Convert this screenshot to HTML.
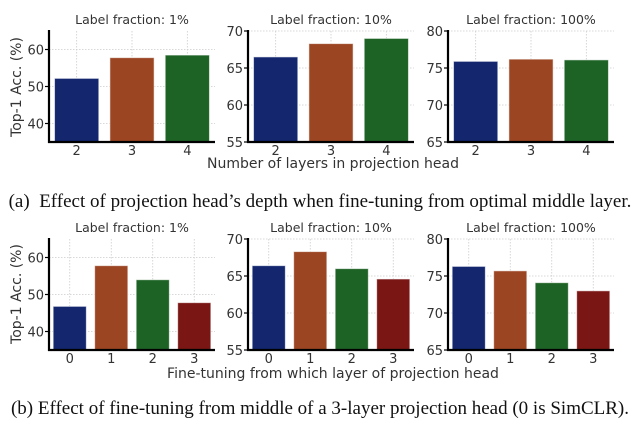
<!DOCTYPE html>
<html><head><meta charset="utf-8"><style>
body{margin:0;background:#fff;width:640px;height:431px;overflow:hidden}
svg{display:block}
.cap{position:absolute;left:0;width:640px;text-align:center;font-family:"Liberation Serif",serif;font-size:19px;color:#111;white-space:nowrap}
</style></head><body>
<svg id="chart" width="640" height="431" style="position:absolute;left:0;top:0" font-family="DejaVu Sans, Liberation Sans, sans-serif"></svg>
<div class="cap" style="top:191px">(a)&nbsp; Effect of projection head’s depth when fine-tuning from optimal middle layer.</div>
<div class="cap" style="top:398px">(b) Effect of fine-tuning from middle of a 3-layer projection head (0 is SimCLR).</div>
<script>
const titles = ["Label fraction: 1%","Label fraction: 10%","Label fraction: 100%"];
const catsA = ["2","3","4"];
const catsB = ["0","1","2","3"];
const valsA1 = [52.2,57.8,58.5];
const valsA2 = [66.5,68.3,69.0];
const valsA3 = [75.9,76.2,76.1];
const valsB1 = [46.8,57.8,54.0,47.8];
const valsB2 = [66.4,68.3,66.0,64.6];
const valsB3 = [76.3,75.7,74.1,73.0];
const ranges = [[35,65],[55,70],[65,80]];
const ticks1 = [40,50,60];
const ticks2 = [55,60,65,70];
const ticks3 = [65,70,75,80];
const colors = ["#13266e","#9b4523","#1e6326","#7a1715"];

const svg = document.getElementById('chart');
const NS = "http://www.w3.org/2000/svg";
function mk(tag, attrs, parent){const e=document.createElementNS(NS,tag);for(const k in attrs)e.setAttribute(k,attrs[k]);(parent||svg).appendChild(e);return e;}

const lefts=[49,248,448], W=166;
function panel(row, p, cats, vals, ticks){
  const top = row===0?31:239, bot = row===0?142:350;
  const L = lefts[p], R = L+W;
  const [lo,hi] = ranges[p];
  const y = v => bot - (v-lo)/(hi-lo)*(bot-top);
  const step = W/cats.length;
  const xc = i => L + step*(i+0.5);
  const g = mk('g',{});
  
  
  ticks.forEach(t=>{
    const gl = mk('line',{x1:L,x2:R,y1:y(t),y2:y(t),stroke:'#ccc','stroke-width':0.8,'stroke-dasharray':'1.5,1.5'},g);
    
    
    mk('line',{x1:L-4,x2:L,y1:y(t),y2:y(t),stroke:'#000','stroke-width':1.2},g);
    const tl = mk('text',{x:L-5,y:y(t)+5,'text-anchor':'end','font-size':13,fill:'#333'},g);
    tl.textContent=t;
    
    
  });
  cats.forEach((c,i)=>{
    const gx = mk('line',{x1:xc(i),x2:xc(i),y1:top,y2:bot,stroke:'#ccc','stroke-width':0.8,'stroke-dasharray':'1.5,1.5'},g);
    
    
  });
  cats.forEach((c,i)=>{
    const bw = step*0.8;
    const b = mk('rect',{x:xc(i)-bw/2,y:y(vals[i]),width:bw,height:bot-y(vals[i]),fill:colors[i],stroke:'rgba(255,255,255,0.6)','stroke-width':1},g);
    
    
    const tl = mk('text',{x:xc(i),y:bot+13,'text-anchor':'middle','font-size':13,fill:'#333'},g);
    tl.textContent=c;
    
    
  });
  mk('line',{x1:L,x2:L,y1:top-1,y2:bot+1,stroke:'#000','stroke-width':2.2},g);
  mk('line',{x1:L-1,x2:R,y1:bot,y2:bot,stroke:'#000','stroke-width':2.2},g);
  const tt = mk('text',{x:(L+R)/2,y:top-7,'text-anchor':'middle','font-size':12.5,fill:'#333'},g);
  tt.textContent=titles[p];
  
  
}
const tk=[ticks1,ticks2,ticks3];
[valsA1,valsA2,valsA3].forEach((v,p)=>panel(0,p,catsA,v,tk[p]));
[valsB1,valsB2,valsB3].forEach((v,p)=>panel(1,p,catsB,v,tk[p]));

function label(txt,x,yy,rot,name){
  const t = mk('text',{x:x,y:yy,'text-anchor':'middle','font-size':14,fill:'#333'});
  if(rot) t.setAttribute('transform','rotate(-90 '+x+' '+yy+')');
  t.textContent=txt;
  
  
}
label("Number of layers in projection head",333,168,false,'x-axis-title-a');
label("Fine-tuning from which layer of projection head",333,378,false,'x-axis-title-b');
label("Top-1 Acc. (%)",21,87,true,'y-axis-title-a');
label("Top-1 Acc. (%)",21,294,true,'y-axis-title-b');
</script>
</body></html>
